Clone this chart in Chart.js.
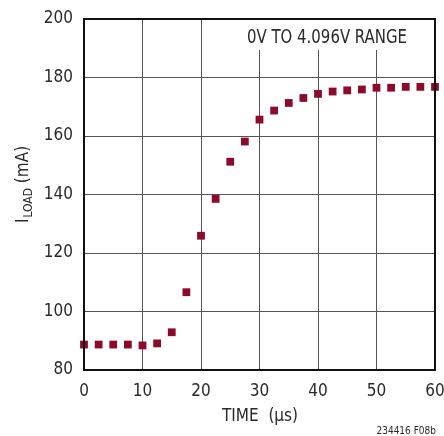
<!DOCTYPE html>
<html><head><meta charset="utf-8">
<script src="https://cdn.jsdelivr.net/npm/chart.js@4/dist/chart.umd.min.js"></script>
<style>html,body{margin:0;padding:0;background:#fff}#wrap{width:444px;height:436px}</style>
</head><body><div id="wrap"><canvas id="c" width="444" height="436"></canvas></div>
<script>
const timeUs = [0, 2.5, 5, 7.5, 10, 12.5, 15, 17.5, 20, 22.5, 25, 27.5, 30, 32.5, 35, 37.5, 40, 42.5, 45, 47.5, 50, 52.5, 55, 57.5, 60];
const iLoad = [88.7, 88.7, 88.7, 88.7, 88.4, 89.1, 92.9, 106.6, 125.9, 138.5, 151.2, 158.1, 165.6, 168.7, 171.3, 173.0, 174.4, 175.2, 175.6, 175.9, 176.5, 176.5, 176.8, 176.8, 176.8];
const xTicks = [0, 10, 20, 30, 40, 50, 60];
const yTicks = [80, 100, 120, 140, 160, 180, 200];
const annotationText = '0V TO 4.096V RANGE';
const xTitle = 'TIME  (\u00B5s)';
const yTitleMain = 'I';
const yTitleSub = 'LOAD';
const yTitleRest = ' (mA)';
const footnote = '234416 F08b';

const FONT = "'Liberation Sans Narrow','DejaVu Sans Condensed','Roboto Condensed',sans-serif";
const TXT = '#2a2a2a';

const deco = {
  id: 'deco',
  beforeDatasetsDraw(chart) {
    const ctx = chart.ctx, a = chart.chartArea;
    ctx.save();
    ctx.font = '19px ' + FONT;
    const w = ctx.measureText(annotationText).width;
    const target = 160;
    const cx = 327;
    ctx.fillStyle = '#fff';
    ctx.fillRect(cx - target / 2 - 5, a.top + 1, target + 10, 30);
    ctx.fillStyle = TXT;
    ctx.textAlign = 'center';
    ctx.textBaseline = 'alphabetic';
    ctx.translate(cx, 43);
    ctx.scale(target / w, 1);
    ctx.fillText(annotationText, 0, 0);
    ctx.restore();
  },
  afterDraw(chart) {
    const ctx = chart.ctx, a = chart.chartArea;
    ctx.save();
    ctx.strokeStyle = '#111';
    ctx.lineWidth = 2;
    ctx.strokeRect(a.left, a.top, a.right - a.left, a.bottom - a.top);
    ctx.fillStyle = TXT;
    ctx.font = '17px ' + FONT;
    ctx.textAlign = 'center';
    ctx.textBaseline = 'alphabetic';
    ctx.fillText(xTitle, 260, 421);
    ctx.translate(28, 185);
    ctx.rotate(-Math.PI / 2);
    const fMain = '17px ' + FONT, fSub = '12px ' + FONT;
    ctx.font = fMain; const w1 = ctx.measureText(yTitleMain).width;
    const w3 = ctx.measureText(yTitleRest).width;
    ctx.font = fSub; const w2 = ctx.measureText(yTitleSub).width;
    let x = -(w1 + w2 + w3) / 2;
    ctx.textAlign = 'left';
    ctx.font = fMain; ctx.fillText(yTitleMain, x, 0); x += w1 + 1;
    ctx.font = fSub; ctx.fillText(yTitleSub, x, 4); x += w2;
    ctx.font = fMain; ctx.fillText(yTitleRest, x, 0);
    ctx.restore();
    ctx.save();
    ctx.fillStyle = TXT;
    ctx.font = '10px ' + FONT;
    ctx.textAlign = 'right';
    ctx.fillText(footnote, 436, 434);
    ctx.restore();
  }
};

new Chart(document.getElementById('c'), {
  type: 'scatter',
  data: {
    datasets: [{
      data: timeUs.map((t, i) => ({x: t, y: iLoad[i]})),
      pointStyle: 'rect',
      pointRadius: 5.5,
      pointHoverRadius: 5.5,
      backgroundColor: '#8c0a2c',
      borderColor: '#8c0a2c',
      borderWidth: 0,
      showLine: false,
      clip: false
    }]
  },
  options: {
    responsive: false,
    devicePixelRatio: 1,
    animation: false,
    events: [],
    layout: {padding: {left: 0, right: 9, top: 19, bottom: 0}},
    plugins: {legend: {display: false}, tooltip: {enabled: false}},
    scales: {
      x: {
        type: 'linear', min: 0, max: 60,
        afterBuildTicks: s => { s.ticks = xTicks.map(v => ({value: v})); },
        afterFit: s => { s.height = 66; s.paddingLeft = 0; s.paddingRight = 0; },
        grid: {color: '#555', lineWidth: 1, drawTicks: false},
        border: {display: false},
        ticks: {padding: 11, color: TXT, font: {family: FONT, size: 17}}
      },
      y: {
        type: 'linear', min: 80, max: 200,
        afterBuildTicks: s => { s.ticks = yTicks.map(v => ({value: v})); },
        afterFit: s => { s.width = 84; s.paddingTop = 0; s.paddingBottom = 0; },
        grid: {color: '#555', lineWidth: 1, drawTicks: false},
        border: {display: false},
        ticks: {padding: 11, color: TXT, font: {family: FONT, size: 17}}
      }
    }
  },
  plugins: [deco]
});
</script>
</body></html>
